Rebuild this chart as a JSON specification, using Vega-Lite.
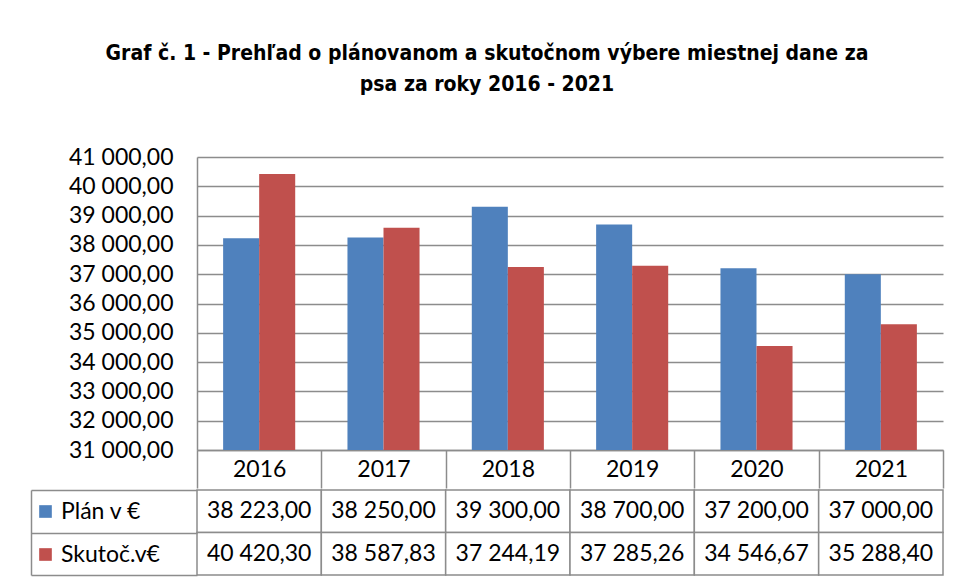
{
  "$schema": "https://vega.github.io/schema/vega-lite/v6.json",
  "padding": {"left": 30, "top": 43, "right": 15, "bottom": 4},
  "title": {
    "text": ["Graf č. 1 - Prehľad o plánovanom a skutočnom výbere miestnej dane za", "psa za roky 2016 - 2021"],
    "font": "Liberation Sans Narrow, DejaVu Sans Condensed, sans-serif",
    "fontSize": 21,
    "fontWeight": "bold",
    "color": "#000000",
    "anchor": "middle",
    "frame": "bounds",
    "lineHeight": 31,
    "offset": 51
  },
  "data": {
    "values": [
      {"year": "2016", "series": "Plán v €", "value": 38223.00},
      {"year": "2017", "series": "Plán v €", "value": 38250.00},
      {"year": "2018", "series": "Plán v €", "value": 39300.00},
      {"year": "2019", "series": "Plán v €", "value": 38700.00},
      {"year": "2020", "series": "Plán v €", "value": 37200.00},
      {"year": "2021", "series": "Plán v €", "value": 37000.00},
      {"year": "2016", "series": "Skutoč.v€", "value": 40420.30},
      {"year": "2017", "series": "Skutoč.v€", "value": 38587.83},
      {"year": "2018", "series": "Skutoč.v€", "value": 37244.19},
      {"year": "2019", "series": "Skutoč.v€", "value": 37285.26},
      {"year": "2020", "series": "Skutoč.v€", "value": 34546.67},
      {"year": "2021", "series": "Skutoč.v€", "value": 35288.40}
    ]
  },
  "spacing": 0,
  "resolve": {"scale": {"x": "independent", "y": "independent", "color": "independent", "xOffset": "independent"}},
  "vconcat": [
    {
      "width": 746,
      "height": 293,
      "mark": {"type": "bar", "clip": true},
      "encoding": {
        "x": {
          "field": "year", "type": "ordinal",
          "scale": {"paddingInner": 0, "paddingOuter": 0},
          "axis": {
            "title": null, "labelAngle": 0, "domainColor": "#8c8c8c", "domainWidth": 1.5,
            "tickColor": "#8c8c8c", "tickWidth": 1.5, "tickBand": "extent", "tickSize": 38,
            "labelPadding": -19, "labelBaseline": "middle", "labelFont": "Lato",
            "labelFontSize": 23, "labelColor": "#000000", "grid": false
          }
        },
        "xOffset": {
          "field": "series", "type": "nominal", "sort": ["Plán v €", "Skutoč.v€"],
          "scale": {"paddingInner": 0, "paddingOuter": 0.725}
        },
        "y": {
          "field": "value", "type": "quantitative",
          "scale": {"domain": [31000, 41000], "zero": false, "nice": false},
          "axis": {
            "title": null, "format": ",.2f", "tickCount": 10, "grid": true,
            "gridColor": "#8c8c8c", "gridWidth": 1.5, "domainColor": "#8c8c8c", "domainWidth": 1.5,
            "ticks": false, "labelPadding": 24, "labelFont": "Lato", "labelFontSize": 23,
            "labelColor": "#000000"
          }
        },
        "color": {
          "field": "series", "type": "nominal",
          "scale": {"domain": ["Plán v €", "Skutoč.v€"], "range": ["#4F81BD", "#C0504D"]},
          "legend": null
        }
      }
    },
    {
      "width": 746,
      "height": 85,
      "encoding": {
        "x": {"field": "year", "type": "ordinal", "scale": {"paddingInner": 0, "paddingOuter": 0}, "axis": null},
        "y": {
          "field": "series", "type": "nominal", "sort": ["Plán v €", "Skutoč.v€"],
          "scale": {"paddingInner": 0, "paddingOuter": 0},
          "axis": {
            "title": null, "labels": false, "offset": 166, "domainColor": "#8c8c8c", "domainWidth": 1.5,
            "ticks": true, "tickBand": "extent", "tickSize": -166, "tickColor": "#8c8c8c", "tickWidth": 1.5,
            "grid": false
          }
        }
      },
      "layer": [
        {
          "mark": {"type": "rect", "fill": "#ffffff", "stroke": "#8c8c8c", "strokeWidth": 1.5}
        },
        {
          "mark": {"type": "text", "font": "Lato", "fontSize": 23, "color": "#000000"},
          "encoding": {"text": {"field": "value", "type": "quantitative", "format": ",.2f"}}
        },
        {
          "mark": {"type": "square", "opacity": 0},
          "encoding": {
            "color": {
              "field": "series", "type": "nominal",
              "scale": {"domain": ["Plán v €", "Skutoč.v€"], "range": ["#4F81BD", "#C0504D"]},
              "legend": {
                "title": null, "orient": "none", "legendX": -163, "legendY": 10, "padding": 0,
                "symbolType": "square", "symbolSize": 160, "symbolStrokeWidth": 0, "symbolOpacity": 1,
                "labelFont": "Lato", "labelFontSize": 23, "labelColor": "#000000", "labelOffset": 4,
                "rowPadding": 19
              }
            }
          }
        }
      ]
    }
  ],
  "config": {
    "locale": {"number": {"decimal": ",", "thousands": " ", "grouping": [3], "currency": ["", " €"]}},
    "view": {"stroke": null},
    "background": "#ffffff"
  }
}
